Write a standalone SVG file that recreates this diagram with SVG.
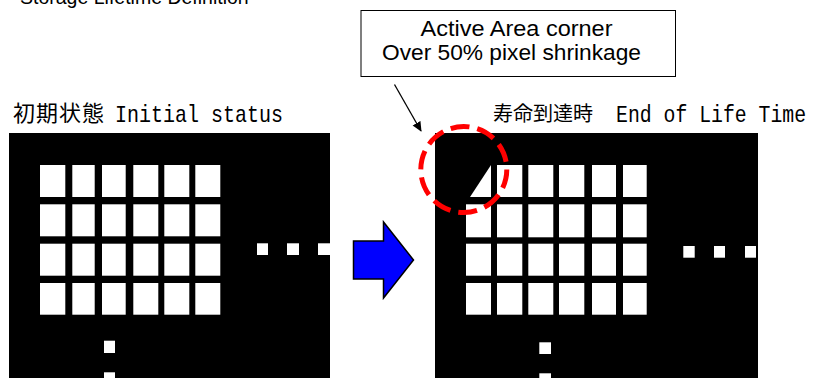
<svg xmlns="http://www.w3.org/2000/svg" width="814" height="378" viewBox="0 0 814 378">
  <defs>
    <style>
      .sans { font-family: "Liberation Sans", Arial, sans-serif; fill: #000; }
      .cjk { font-family: "Noto Sans CJK JP", "Noto Sans CJK SC", sans-serif; fill: #000; }
      .mono { font-family: "Liberation Mono", "DejaVu Sans Mono", monospace; fill: #000; }
      .panel { fill: #000; }
      .px { fill: #fff; }
    </style>
    <marker id="ah" markerWidth="10" markerHeight="10" refX="9" refY="5" orient="auto" markerUnits="userSpaceOnUse">
      <path d="M0,0.5 L10,5 L0,9.5 Z" fill="#000"/>
    </marker>
  </defs>
  <rect width="814" height="378" fill="#fff"/>

  <g id="title">
    <text class="sans" x="20" y="4" font-size="19.5">Storage Lifetime Definition</text>
  </g>

  <g id="label-initial">
    <text class="cjk" x="13" y="121" font-size="22" letter-spacing="1">初期状態</text>
    <text class="mono" x="115" y="121.5" font-size="24" textLength="168" lengthAdjust="spacingAndGlyphs">Initial status</text>
  </g>

  <g id="label-eol">
    <text class="cjk" x="493" y="121" font-size="20">寿命到達時</text>
    <text class="mono" x="616" y="121.5" font-size="24" textLength="190" lengthAdjust="spacingAndGlyphs">End of Life Time</text>
  </g>

  <g id="panel-initial">
    <rect class="panel" x="9" y="133" width="321" height="250"/>
    <g class="px">
      <rect x="40" y="165" width="25.3" height="32"/>
      <rect x="72.3" y="165" width="22.4" height="32"/>
      <rect x="102" y="165" width="23.7" height="32"/>
      <rect x="133.3" y="165" width="25" height="32"/>
      <rect x="164.3" y="165" width="25" height="32"/>
      <rect x="195.3" y="165" width="25" height="32"/>

      <rect x="40" y="204.3" width="25.3" height="32"/>
      <rect x="72.3" y="204.3" width="22.4" height="32"/>
      <rect x="102" y="204.3" width="23.7" height="32"/>
      <rect x="133.3" y="204.3" width="25" height="32"/>
      <rect x="164.3" y="204.3" width="25" height="32"/>
      <rect x="195.3" y="204.3" width="25" height="32"/>

      <rect x="40" y="243.7" width="25.3" height="32"/>
      <rect x="72.3" y="243.7" width="22.4" height="32"/>
      <rect x="102" y="243.7" width="23.7" height="32"/>
      <rect x="133.3" y="243.7" width="25" height="32"/>
      <rect x="164.3" y="243.7" width="25" height="32"/>
      <rect x="195.3" y="243.7" width="25" height="32"/>

      <rect x="40" y="283" width="25.3" height="31.7"/>
      <rect x="72.3" y="283" width="22.4" height="31.7"/>
      <rect x="102" y="283" width="23.7" height="31.7"/>
      <rect x="133.3" y="283" width="25" height="31.7"/>
      <rect x="164.3" y="283" width="25" height="31.7"/>
      <rect x="195.3" y="283" width="25" height="31.7"/>

      <rect x="257" y="243.3" width="11" height="11.7"/>
      <rect x="287" y="243.3" width="12" height="11.7"/>
      <rect x="318" y="243.3" width="12" height="11.7"/>

      <rect x="104" y="340.7" width="11" height="12.3"/>
      <rect x="104" y="372.3" width="11" height="12"/>
    </g>
  </g>

  <g id="panel-eol">
    <rect class="panel" x="435" y="133" width="323" height="250"/>
    <g class="px">
      <polygon points="470,197 491,165 491,197"/>
      <rect x="497" y="165" width="25.3" height="32"/>
      <rect x="528.3" y="165" width="25" height="32"/>
      <rect x="559" y="165" width="25.3" height="32"/>
      <rect x="592" y="165" width="24" height="32"/>
      <rect x="623" y="165" width="23.7" height="32"/>

      <rect x="466" y="204.3" width="25" height="33"/>
      <rect x="497" y="204.3" width="25.3" height="33"/>
      <rect x="528.3" y="204.3" width="25" height="33"/>
      <rect x="559" y="204.3" width="25.3" height="33"/>
      <rect x="592" y="204.3" width="24" height="33"/>
      <rect x="623" y="204.3" width="23.7" height="33"/>

      <rect x="466" y="243.7" width="25" height="32"/>
      <rect x="497" y="243.7" width="25.3" height="32"/>
      <rect x="528.3" y="243.7" width="25" height="32"/>
      <rect x="559" y="243.7" width="25.3" height="32"/>
      <rect x="592" y="243.7" width="24" height="32"/>
      <rect x="623" y="243.7" width="23.7" height="32"/>

      <rect x="466" y="283" width="25" height="31.7"/>
      <rect x="497" y="283" width="25.3" height="31.7"/>
      <rect x="528.3" y="283" width="25" height="31.7"/>
      <rect x="559" y="283" width="25.3" height="31.7"/>
      <rect x="592" y="283" width="24" height="31.7"/>
      <rect x="623" y="283" width="23.7" height="31.7"/>

      <rect x="683.3" y="246" width="11.4" height="11.7"/>
      <rect x="714" y="246" width="11" height="11.7"/>
      <rect x="745" y="246" width="11" height="11.7"/>

      <rect x="539.3" y="342.3" width="11.7" height="11.7"/>
      <rect x="539.3" y="373.3" width="11.7" height="11"/>
    </g>
  </g>

  <g id="highlight-circle">
    <circle cx="463.8" cy="169.5" r="43" fill="none" stroke="#ff0000" stroke-width="5" stroke-dasharray="19 8"/>
  </g>

  <g id="callout">
    <rect x="361" y="10.5" width="314.5" height="66" fill="#fff" stroke="#000" stroke-width="1"/>
    <text class="sans" x="420.5" y="36" font-size="22.5" textLength="192" lengthAdjust="spacingAndGlyphs">Active Area corner</text>
    <text class="sans" x="382" y="59.5" font-size="22.5" textLength="259" lengthAdjust="spacingAndGlyphs">Over 50% pixel shrinkage</text>
  </g>

  <g id="transition-arrow">
    <polygon points="353.5,241 383.5,241 383.5,222 413.5,260 383.5,298 383.5,279 353.5,279" fill="#0000ff" stroke="#000" stroke-width="1.5"/>
  </g>

  <g id="connectors">
    <line x1="394.5" y1="84.5" x2="421" y2="131" stroke="#000" stroke-width="1.3" marker-end="url(#ah)"/>
  </g>
</svg>
